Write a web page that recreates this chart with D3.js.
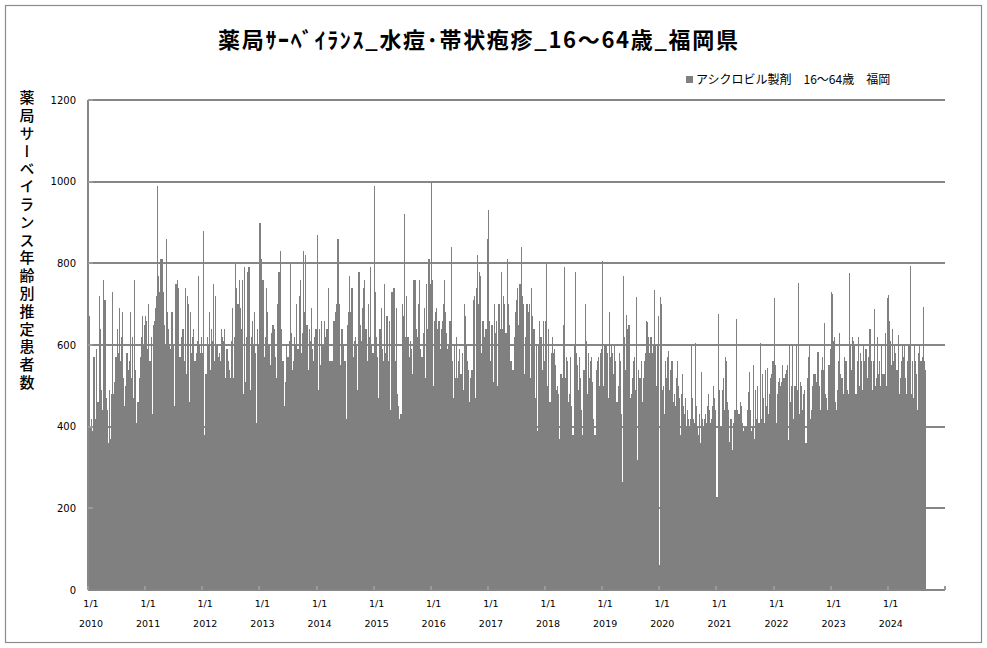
<!DOCTYPE html>
<html>
<head>
<meta charset="utf-8">
<script src="https://cdn.jsdelivr.net/npm/d3@7"></script>
<style>
  body { margin: 0; background: #fff; }
  svg { display: block; }
</style>
</head>
<body>
<div id="chart"></div>
<script>
// weekly estimated patients, one list per year
var v2010 = [440, 670, 400, 420, 390, 570, 420, 590, 460, 460, 720, 640, 490, 440, 760, 710, 470, 440, 360, 490, 370, 480, 730, 480, 510, 570, 640, 580, 690, 560, 620, 680, 520, 450, 500, 580, 540, 560, 680, 520, 620, 470, 760, 540, 410, 460, 520, 570, 620, 670, 600, 650];
var v2011 = [670, 660, 590, 700, 560, 620, 430, 650, 660, 690, 720, 990, 770, 730, 810, 810, 730, 650, 600, 860, 680, 640, 600, 590, 680, 600, 450, 750, 750, 760, 740, 570, 570, 620, 640, 560, 740, 530, 720, 700, 460, 680, 580, 620, 640, 560, 580, 610, 770, 600, 580, 620];
var v2012 = [580, 880, 380, 530, 620, 600, 680, 540, 640, 610, 750, 560, 720, 600, 570, 580, 560, 640, 620, 610, 640, 520, 590, 560, 540, 520, 610, 690, 520, 620, 800, 740, 700, 760, 690, 640, 760, 480, 790, 510, 620, 780, 790, 490, 620, 660, 600, 680, 580, 410, 640, 600];
var v2013 = [900, 810, 760, 760, 570, 620, 740, 680, 600, 550, 630, 650, 650, 640, 570, 520, 700, 780, 830, 640, 560, 560, 450, 510, 600, 570, 610, 800, 630, 540, 560, 620, 600, 700, 590, 720, 760, 580, 630, 830, 680, 820, 650, 540, 640, 610, 690, 590, 560, 620, 640];
var v2014 = [870, 490, 640, 550, 660, 600, 660, 620, 640, 640, 740, 560, 560, 560, 660, 660, 680, 700, 860, 700, 550, 640, 640, 600, 560, 420, 650, 680, 770, 680, 740, 570, 610, 620, 600, 490, 780, 650, 610, 690, 740, 760, 640, 560, 700, 620, 790, 600, 580];
var v2015 = [990, 730, 620, 570, 470, 640, 690, 590, 560, 750, 580, 670, 560, 660, 440, 730, 730, 740, 560, 690, 480, 450, 420, 430, 700, 670, 920, 620, 720, 620, 570, 610, 590, 530, 760, 760, 640, 620, 700, 760, 590, 570, 630, 690, 520, 750, 640, 810, 750];
var v2016 = [1000, 760, 500, 660, 680, 690, 640, 660, 590, 640, 660, 700, 760, 680, 630, 590, 600, 660, 840, 560, 470, 600, 520, 620, 520, 560, 590, 530, 580, 490, 700, 670, 600, 560, 540, 460, 520, 540, 710, 720, 470, 740, 820, 700, 780, 770, 580, 660, 620, 640, 640, 860];
var v2017 = [930, 660, 560, 650, 510, 700, 630, 660, 500, 700, 640, 780, 640, 720, 700, 630, 810, 700, 650, 560, 560, 540, 620, 680, 710, 740, 650, 750, 840, 720, 700, 530, 620, 700, 680, 700, 520, 740, 670, 640, 470, 600, 390, 600, 660, 620, 540, 660, 560];
var v2018 = [660, 800, 500, 640, 460, 580, 620, 580, 590, 550, 490, 500, 480, 370, 530, 520, 650, 790, 520, 570, 560, 460, 480, 570, 450, 380, 600, 780, 580, 550, 490, 570, 520, 440, 380, 540, 700, 610, 480, 580, 520, 560, 570, 510, 420, 380, 540, 560, 570, 500, 580, 590];
var v2019 = [806, 500, 600, 600, 580, 470, 680, 570, 600, 580, 530, 600, 560, 460, 500, 580, 560, 430, 265, 770, 620, 540, 673, 640, 650, 470, 480, 520, 560, 570, 490, 718, 318, 540, 520, 560, 460, 520, 560, 580, 660, 657, 620, 580, 620, 580, 600, 735, 600, 500, 600, 672];
var v2020 = [61, 718, 700, 490, 500, 430, 560, 520, 570, 585, 490, 540, 560, 460, 480, 450, 520, 560, 500, 470, 380, 480, 530, 450, 430, 470, 400, 440, 420, 400, 420, 600, 470, 420, 410, 604, 450, 400, 380, 430, 360, 535, 420, 400, 420, 430, 410, 450, 480, 440, 410, 420, 450, 500, 470, 440];
var v2021 = [228, 677, 490, 400, 400, 490, 520, 440, 570, 560, 460, 440, 363, 420, 344, 410, 440, 440, 663, 440, 430, 430, 460, 450, 410, 390, 400, 400, 440, 486, 535, 440, 390, 400, 550, 370, 490, 420, 500, 410, 604, 420, 530, 470, 410, 539, 450, 543, 430, 480, 520, 530, 560];
var v2022 = [714, 550, 410, 480, 510, 520, 500, 510, 550, 520, 530, 540, 550, 367, 600, 460, 500, 600, 420, 500, 600, 490, 751, 430, 510, 500, 440, 480, 490, 361, 520, 570, 600, 420, 440, 500, 530, 530, 530, 510, 584, 500, 440, 540, 570, 540, 655, 480, 470, 440, 550, 590];
var v2023 = [731, 725, 610, 620, 460, 440, 490, 560, 630, 530, 520, 480, 570, 560, 560, 490, 480, 776, 600, 540, 620, 610, 600, 480, 560, 620, 500, 580, 560, 490, 600, 560, 590, 590, 520, 570, 640, 560, 490, 560, 688, 500, 520, 620, 530, 560, 500, 600, 530, 530, 630, 500, 716];
var v2024 = [722, 660, 610, 550, 640, 560, 600, 580, 540, 624, 480, 520, 560, 600, 570, 600, 520, 480, 560, 600, 793, 480, 560, 470, 600, 560, 530, 440, 580, 600, 560, 570, 693, 560, 540];

var years = [2010, 2011, 2012, 2013, 2014, 2015, 2016, 2017, 2018, 2019, 2020, 2021, 2022, 2023, 2024];
var seriesByYear = [v2010, v2011, v2012, v2013, v2014, v2015, v2016, v2017, v2018, v2019, v2020, v2021, v2022, v2023, v2024];
var lastDay = new Date(2024, 8, 1);
var yTicks = [0, 200, 400, 600, 800, 1000, 1200];
var tickLabel = "1/1";

var chartTitle = "薬局ｻｰﾍﾞｲﾗﾝｽ_水痘･帯状疱疹_16～64歳_福岡県";
var yTitle = "薬局サーベイランス年齢別推定患者数";
var legendText = "アシクロビル製剤　16～64歳　福岡";

var width = 987, height = 648;
var margin = {left: 88, right: 42, top: 100, bottom: 58};
var barColor = "#808080";
var jp = "'Noto Sans CJK JP', sans-serif";
var num = "'DejaVu Sans', sans-serif";

// flatten: each year's values spread evenly over that year
var data = [];
years.forEach(function(yr, k){
  var vals = seriesByYear[k];
  var t0 = new Date(yr, 0, 1);
  var t1 = (yr === 2024) ? lastDay : new Date(yr + 1, 0, 1);
  var step = (t1 - t0) / vals.length;
  vals.forEach(function(v, i){
    data.push({d0: new Date(+t0 + i * step), d1: new Date(+t0 + (i + 1) * step), value: v});
  });
});

var svg = d3.select("#chart").append("svg")
    .attr("width", width)
    .attr("height", height);

svg.append("rect")
    .attr("x", 5.5).attr("y", 5.5)
    .attr("width", width - 11).attr("height", height - 11)
    .attr("fill", "#fff")
    .attr("stroke", "#8c8c8c")
    .attr("stroke-width", 1.2);

var x = d3.scaleTime()
    .domain([new Date(2010, 0, 1), new Date(2025, 0, 1)])
    .range([margin.left, width - margin.right]);
var y = d3.scaleLinear()
    .domain([0, 1200])
    .range([height - margin.bottom, margin.top]);

// gridlines (behind bars)
svg.append("g").selectAll("line")
  .data(yTicks.slice(1))
  .enter().append("line")
    .attr("x1", margin.left).attr("x2", width - margin.right)
    .attr("y1", function(d){ return Math.round(y(d)); })
    .attr("y2", function(d){ return Math.round(y(d)); })
    .attr("stroke", "#868686")
    .attr("stroke-width", 2)
    .attr("shape-rendering", "crispEdges");

// bars
svg.append("g").selectAll("rect")
  .data(data)
  .enter().append("rect")
    .attr("x", function(d){ return x(d.d0); })
    .attr("width", function(d){ return x(d.d1) - x(d.d0); })
    .attr("y", function(d){ return y(d.value); })
    .attr("height", function(d){ return y(0) - y(d.value); })
    .attr("fill", barColor)
    .attr("shape-rendering", "crispEdges");

// axes lines
svg.append("line")
    .attr("x1", margin.left).attr("x2", margin.left)
    .attr("y1", y(1200)).attr("y2", y(0))
    .attr("stroke", "#868686").attr("stroke-width", 2)
    .attr("shape-rendering", "crispEdges");
svg.append("line")
    .attr("x1", margin.left).attr("x2", width - margin.right)
    .attr("y1", y(0)).attr("y2", y(0))
    .attr("stroke", "#868686").attr("stroke-width", 2)
    .attr("shape-rendering", "crispEdges");

// small inward ticks
var yearTicks = years.map(function(yr){ return new Date(yr, 0, 1); }).concat([new Date(2025, 0, 1)]);
svg.append("g").selectAll("line")
  .data(yearTicks)
  .enter().append("line")
    .attr("x1", function(d){ return Math.round(x(d)); })
    .attr("x2", function(d){ return Math.round(x(d)); })
    .attr("y1", y(0)).attr("y2", y(0) - 4)
    .attr("stroke", "#9a9a9a").attr("stroke-width", 2)
    .attr("shape-rendering", "crispEdges");
svg.append("g").selectAll("line")
  .data(yTicks.slice(1))
  .enter().append("line")
    .attr("x1", margin.left).attr("x2", margin.left + 5)
    .attr("y1", function(d){ return Math.round(y(d)); })
    .attr("y2", function(d){ return Math.round(y(d)); })
    .attr("stroke", "#9a9a9a").attr("stroke-width", 2)
    .attr("shape-rendering", "crispEdges");

// y tick labels
svg.append("g").selectAll("text")
  .data(yTicks)
  .enter().append("text")
    .attr("x", 76)
    .attr("y", function(d){ return y(d); })
    .attr("dy", "0.35em")
    .attr("text-anchor", "end")
    .style("font-family", num)
    .style("font-size", "10px")
    .attr("fill", "#000")
    .text(function(d){ return d; });

// x tick labels
var xl = svg.append("g").selectAll("g")
  .data(years)
  .enter().append("g")
    .attr("transform", function(yr){ return "translate(" + (x(new Date(yr, 0, 1)) + 3) + ",0)"; });
xl.append("text")
    .attr("y", 607)
    .attr("text-anchor", "middle")
    .style("font-family", num)
    .style("font-size", "9.5px")
    .text(tickLabel);
xl.append("text")
    .attr("y", 627)
    .attr("text-anchor", "middle")
    .style("font-family", num)
    .style("font-size", "9.5px")
    .text(function(yr){ return yr; });

// title
svg.append("text")
    .attr("x", 478).attr("y", 40)
    .attr("dy", "0.35em")
    .attr("text-anchor", "middle")
    .attr("textLength", 520)
    .attr("lengthAdjust", "spacing")
    .style("font-family", jp)
    .style("font-size", "22px")
    .style("font-weight", "bold")
    .text(chartTitle);

// y axis title, vertical
svg.append("text")
    .attr("x", 27).attr("y", 90)
    .style("writing-mode", "vertical-rl")
    .style("font-family", jp)
    .style("font-size", "15px")
    .style("font-weight", "500")
    .style("letter-spacing", "2.8px")
    .text(yTitle);

// legend
svg.append("rect")
    .attr("x", 686).attr("y", 76)
    .attr("width", 7).attr("height", 7)
    .attr("fill", barColor);
svg.append("text")
    .attr("x", 696).attr("y", 80)
    .attr("dy", "0.35em")
    .style("font-family", jp)
    .style("font-size", "12px")
    .text(legendText);
</script>
</body>
</html>
